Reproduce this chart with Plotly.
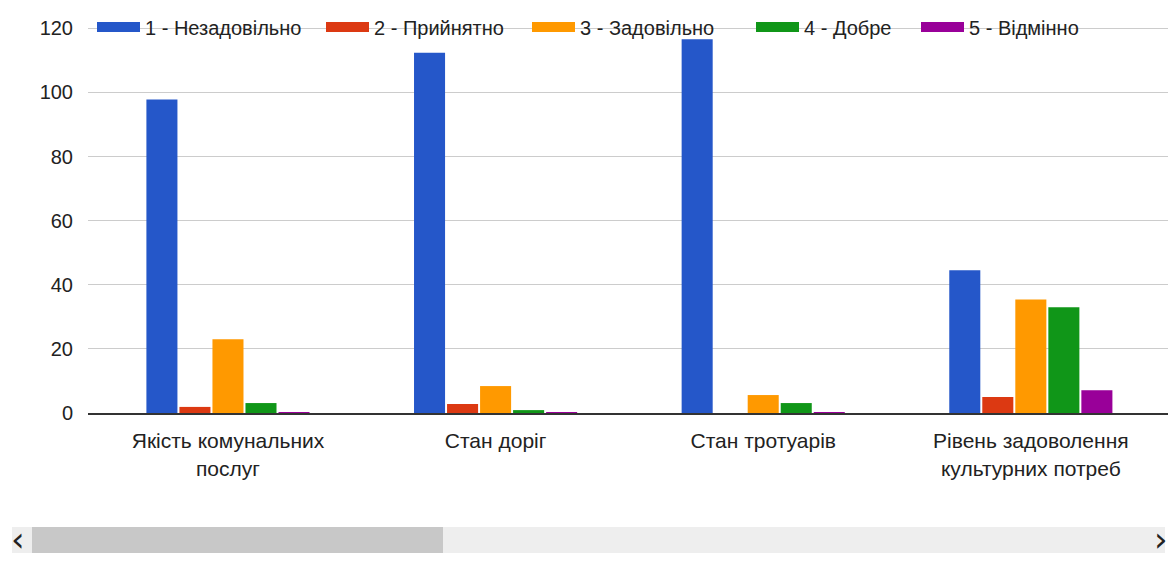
import plotly.graph_objects as go

categories = ["Якість комунальних<br>послуг", "Стан доріг", "Стан тротуарів",
              "Рівень задоволення<br>культурних потреб"]
series_names = ["1 - Незадовільно", "2 - Прийнятно", "3 - Задовільно", "4 - Добре", "5 - Відмінно"]
v1 = [97.8, 112.4, 116.6, 44.5]
v2 = [1.9, 2.8, 0, 5.0]
v3 = [23.0, 8.4, 5.6, 35.4]
v4 = [3.1, 0.9, 3.1, 33.0]
v5 = [0.3, 0.3, 0.3, 7.1]
colors = ["#2557c9", "#dc3912", "#ff9900", "#109618", "#990099"]
y_ticks = [0, 20, 40, 60, 80, 100, 120]

FONT = "Liberation Sans Narrow, Arial Narrow, Liberation Sans, Arial, sans-serif"
OFF = 8  # browser body margin

W, H = 1176 - OFF, 567 - OFF
L, T = 88 - OFF, 27 - OFF
R = W - (1170 - OFF)
B = H - (413 - OFF)
pw = W - L - R
ph = H - T - B

def px_x(p):
    return (p - OFF - L) / pw

def px_y(p):
    return (H - B - (p - OFF)) / ph

legend_ids = ["legend", "legend2", "legend3", "legend4", "legend5"]
legend_starts = [97, 326, 532, 756, 921]

fig = go.Figure()
for name, vals, col in zip(series_names, [v1, v2, v3, v4, v5], colors):
    fig.add_trace(go.Bar(x=list(range(len(categories))), y=vals, name=name,
                         marker=dict(color=col, line=dict(width=0)), showlegend=False))
# legend entries with wide swatches
for name, col, lid in zip(series_names, colors, legend_ids):
    fig.add_trace(go.Scatter(x=[None], y=[None], mode="lines", name=name,
                             line=dict(color=col, width=20), legend=lid))

legend_layout = {}
for lid, sx in zip(legend_ids, legend_starts):
    legend_layout[lid] = dict(orientation="h", x=px_x(sx - 5), y=px_y(27),
                              xanchor="left", yanchor="middle",
                              bgcolor="rgba(0,0,0,0)",
                              font=dict(family=FONT, size=20, color="#222222"),
                              itemwidth=43)

fig.update_layout(
    width=W, height=H,
    margin=dict(l=L, r=R, t=T, b=B, autoexpand=False),
    paper_bgcolor="white", plot_bgcolor="white",
    barmode="group", bargap=0.383, bargroupgap=0.06,
    font=dict(family=FONT, size=21, color="#222222"),
    showlegend=True,
    xaxis=dict(tickmode="array", tickvals=list(range(len(categories))), ticktext=categories,
               range=[-0.523, 3.52], showgrid=False, showline=True, linecolor="#333333",
               linewidth=2, ticks="", ticklabelstandoff=8,
               tickfont=dict(family=FONT, size=21, color="#222222")),
    yaxis=dict(range=[0, 120.4], tickvals=y_ticks, showgrid=True, gridcolor="#cccccc",
               gridwidth=1, zeroline=False, showline=False, ticks="",
               tickfont=dict(family=FONT, size=20, color="#222222"), ticklabelstandoff=14),
    **legend_layout,
)

# scrollbar decoration below chart
fig.add_shape(type="rect", xref="paper", yref="paper",
              x0=px_x(12), x1=px_x(1165), y0=px_y(553), y1=px_y(527),
              fillcolor="#eeeeee", line=dict(width=0), layer="above")
fig.add_shape(type="rect", xref="paper", yref="paper",
              x0=px_x(32), x1=px_x(443), y0=px_y(553), y1=px_y(527),
              fillcolor="#c8c8c8", line=dict(width=0), layer="above")
fig.add_annotation(text="‹", xref="paper", yref="paper", x=px_x(18), y=px_y(539),
                   xanchor="center", yanchor="middle",
                   showarrow=False, font=dict(size=34, color="#222222", family="DejaVu Sans"))
fig.add_annotation(text="›", xref="paper", yref="paper", x=px_x(1161), y=px_y(539),
                   xanchor="center", yanchor="middle",
                   showarrow=False, font=dict(size=34, color="#222222", family="DejaVu Sans"))

fig.write_html("out.html")
